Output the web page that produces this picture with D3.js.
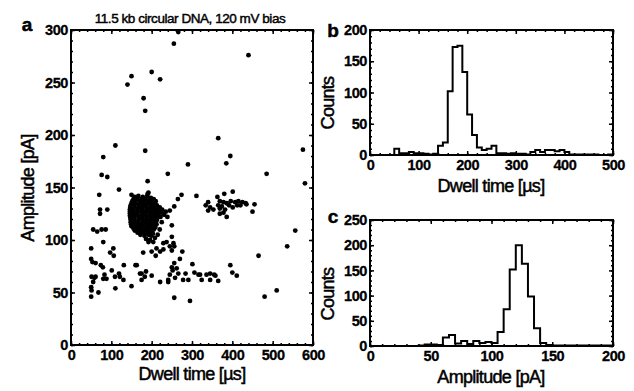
<!DOCTYPE html>
<html>
<head>
<meta charset="utf-8">
<script src="https://cdn.jsdelivr.net/npm/d3@7"></script>
<style>
  body { margin: 0; background: #fff; }
  svg { display: block; font-family: "Liberation Sans", Arial, sans-serif; }
  .tick text { font-size: 14.5px; font-weight: bold; fill: #000; stroke: #000; stroke-width: 0.3px; letter-spacing: -0.4px; }
  .title { font-size: 18px; fill: #000; stroke: #000; stroke-width: 0.5px; letter-spacing: -0.7px; }
</style>
</head>
<body>
<svg width="634" height="391"></svg>
<script>
(function (d3) {
  'use strict';

  // scatter: [dwell time (us), amplitude (pA)]
  var sparsePoints = [
    [266, 298], [255, 287], [440, 276], [150, 256], [140, 248], [200, 260], [221, 253], [180, 235],
    [184, 223], [110, 190], [80, 179], [184, 185], [365, 197], [395, 180], [385, 173], [290, 172],
    [240, 163], [76, 162], [90, 160], [190, 156], [485, 163], [575, 186], [580, 154], [119, 148],
    [70, 143], [190, 144], [274, 143], [311, 142], [265, 139], [256, 132], [245, 128], [235, 127],
    [231, 124], [556, 109], [536, 94], [465, 85], [395, 76], [400, 69], [411, 66], [510, 52], [480, 46],
    [72, 129], [90, 129], [72, 125], [55, 110], [65, 108], [76, 110], [86, 110], [80, 98], [50, 92],
    [97, 88], [105, 92], [106, 85], [50, 82], [53, 79], [61, 78], [74, 76], [79, 74], [131, 76],
    [160, 76], [51, 65], [58, 64], [55, 60], [83, 67], [101, 71], [109, 65], [119, 68], [121, 65],
    [80, 63], [88, 63], [130, 62], [50, 55], [51, 52], [68, 50], [110, 54], [150, 56], [50, 46], [61, 65],
    [250, 114], [239, 122], [225, 117], [250, 103], [237, 98], [229, 97], [254, 97], [245, 94],
    [256, 94], [208, 102], [192, 98], [204, 98], [200, 89], [212, 92], [221, 89], [229, 91], [210, 85],
    [179, 88], [250, 90], [276, 89], [270, 82], [256, 78], [250, 74], [262, 73], [252, 71], [301, 77],
    [266, 68], [284, 68], [306, 69], [316, 67], [336, 67], [345, 68], [355, 67], [245, 67], [258, 64],
    [241, 62], [291, 62], [278, 62], [324, 62], [345, 62], [365, 61], [221, 60], [241, 60], [163, 76],
    [175, 68], [183, 65], [175, 62], [200, 66], [256, 45], [295, 42], [171, 68], [186, 70], [320, 67],
    [358, 66], [215, 105], [220, 110]
  ];
  var sideCluster = [
    [380, 144], [401, 146], [363, 141], [369, 137], [378, 136], [386, 135], [396, 137], [407, 136],
    [415, 137], [425, 136], [433, 135], [412, 133], [401, 131], [374, 132], [382, 129], [378, 126],
    [386, 122], [455, 134], [450, 127], [369, 130], [340, 136], [334, 133], [340, 128], [353, 129],
    [365, 133], [369, 125], [435, 134], [392, 133], [420, 133], [345, 131]
  ];
  var mainCluster = [
    [158, 141], [167, 142], [178, 141], [189, 142], [198, 140], [192, 145], [150, 143],
    [155, 139], [165, 139], [175, 139], [185, 139], [195, 138], [205, 139],
    [152, 137], [161, 138], [172, 137], [183, 138], [193, 137], [202, 136], [210, 137],
    [150, 135], [160, 135], [170, 135], [180, 135], [190, 135], [200, 135], [209, 134],
    [148, 133], [157, 134], [168, 133], [179, 133], [188, 134], [198, 133], [207, 132], [213, 133],
    [147, 131], [157, 131], [167, 131], [177, 131], [187, 131], [197, 131], [207, 131], [214, 130], [220, 131],
    [146, 129], [155, 129], [166, 130], [176, 129], [187, 129], [196, 130], [206, 129], [215, 128], [226, 129],
    [146, 127], [156, 127], [166, 127], [176, 127], [186, 127], [196, 127], [206, 127], [215, 127], [222, 126],
    [146, 125], [156, 125], [165, 124], [176, 125], [186, 126], [197, 125], [206, 124], [215, 125], [230, 125],
    [146, 123], [156, 123], [166, 123], [176, 123], [186, 123], [196, 123], [206, 122], [214, 123], [222, 122],
    [147, 121], [157, 121], [168, 121], [177, 120], [187, 121], [197, 121], [207, 120], [214, 121],
    [148, 119], [158, 119], [168, 119], [178, 119], [188, 119], [198, 119], [208, 118], [213, 119],
    [148, 117], [158, 117], [168, 116], [178, 117], [188, 117], [198, 116], [208, 117], [212, 115],
    [149, 115], [159, 115], [169, 115], [179, 115], [189, 115], [199, 114], [209, 115],
    [150, 113], [160, 112], [170, 113], [180, 113], [190, 112], [200, 113], [209, 112],
    [155, 111], [165, 111], [175, 111], [185, 110], [195, 111], [205, 111],
    [158, 109], [170, 109], [180, 108], [190, 109], [200, 108], [205, 110],
    [165, 107], [175, 107], [185, 106], [195, 107], [203, 106],
    [172, 105], [182, 104], [192, 105], [199, 104], [186, 101], [196, 100]
  ];

  // histogram b: dwell time, 10 us bins from 0
  var dwellBinWidth = 10;
  var dwellCounts = [
    0, 0, 0, 0, 0, 10, 3, 3, 5, 3, 3, 2, 1, 2, 15, 20, 102, 173, 175, 133,
    65, 32, 12, 8, 10, 15, 3, 3, 2, 3, 2, 2, 1, 5, 8, 5, 8, 8, 6, 8,
    5, 1, 1, 1, 1, 1, 1, 0, 0, 1
  ];
  // histogram c: amplitude, 5 pA bins from 0
  var ampBinWidth = 5;
  var ampCounts = [
    0, 0, 0, 0, 0, 0, 0, 0, 1, 3, 3, 2, 17, 22, 5, 10, 4, 10, 6, 8,
    6, 28, 73, 152, 200, 163, 98, 35, 6, 2, 1, 1, 1, 1, 1, 1, 1, 1, 1, 1
  ];

  var aTicksX = [0, 100, 200, 300, 400, 500, 600];
  var aTicksY = [0, 50, 100, 150, 200, 250, 300];
  var bTicksX = [0, 100, 200, 300, 400, 500];
  var bTicksY = [0, 50, 100, 150, 200];
  var cTicksX = [0, 50, 100, 150, 200];
  var cTicksY = [0, 50, 100, 150, 200, 250];

  var svg = d3.select("svg");

  var panelA = { left: 71, top: 30, right: 313, bottom: 345 };
  var panelB = { left: 370, top: 30, right: 613, bottom: 155 };
  var panelC = { left: 370, top: 220, right: 613, bottom: 346 };

  // draws inward ticks on all 4 sides, returns inner g
  var drawFrame = function (box, x, y, xTicks, yTicks, xMinorStep, yMinorStep) {
    var w = box.right - box.left;
    var h = box.bottom - box.top;
    var g = svg.append("g").attr("transform", "translate(" + box.left + "," + box.top + ")");
    var xd = x.domain(), yd = y.domain();
    var xMinor = d3.range(xd[0], xd[1] + 0.001, xMinorStep);
    var yMinor = d3.range(yd[0], yd[1] + 0.001, yMinorStep);

    g.append("g").attr("transform", "translate(0," + h + ")")
      .call(d3.axisBottom(x).tickValues(xMinor).tickSize(-2).tickFormat(""));
    g.append("g")
      .call(d3.axisTop(x).tickValues(xMinor).tickSize(-2).tickFormat(""));
    g.append("g")
      .call(d3.axisLeft(y).tickValues(yMinor).tickSize(-2).tickFormat(""));
    g.append("g").attr("transform", "translate(" + w + ",0)")
      .call(d3.axisRight(y).tickValues(yMinor).tickSize(-2).tickFormat(""));

    g.append("g").attr("transform", "translate(0," + h + ")")
      .call(d3.axisBottom(x).tickValues(xTicks).tickSize(-4).tickPadding(5).tickFormat(d3.format("d")));
    g.append("g")
      .call(d3.axisTop(x).tickValues(xTicks).tickSize(-4).tickFormat(""));
    g.append("g")
      .call(d3.axisLeft(y).tickValues(yTicks).tickSize(-4).tickPadding(3).tickFormat(d3.format("d")));
    g.append("g").attr("transform", "translate(" + w + ",0)")
      .call(d3.axisRight(y).tickValues(yTicks).tickSize(-4).tickFormat(""));

    g.selectAll(".domain").remove();
    g.selectAll(".tick line").attr("stroke", "#000").attr("stroke-width", 1.5);

    return g;
  };

  var frameRect = function (g, box) {
    g.append("rect")
      .attr("width", box.right - box.left)
      .attr("height", box.bottom - box.top)
      .attr("fill", "none")
      .attr("stroke", "#000")
      .attr("stroke-width", 2);
  };

  // ---- panel a: scatter
  var xA = d3.scaleLinear().domain([0, 600]).range([0, panelA.right - panelA.left]);
  var yA = d3.scaleLinear().domain([0, 300]).range([panelA.bottom - panelA.top, 0]);
  var gA = drawFrame(panelA, xA, yA, aTicksX, aTicksY, 20, 10);
  var allPoints = sparsePoints.concat(sideCluster, mainCluster);
  gA.append("g").selectAll("circle")
    .data(allPoints)
    .enter()
    .append("circle")
    .attr("cx", function (d) { return xA(d[0]); })
    .attr("cy", function (d) { return yA(d[1]); })
    .attr("r", 2.4)
    .attr("fill", "#000");
  frameRect(gA, panelA);

  // ---- histograms
  var drawHist = function (box, counts, binWidth, xMax, yMax, xTicks, yTicks, xMinorStep) {
    var x = d3.scaleLinear().domain([0, xMax]).range([0, box.right - box.left]);
    var y = d3.scaleLinear().domain([0, yMax]).range([box.bottom - box.top, 0]);
    var g = drawFrame(box, x, y, xTicks, yTicks, xMinorStep, 10);
    var pts = counts.map(function (c, i) { return [i * binWidth, c]; });
    pts.push([counts.length * binWidth, counts[counts.length - 1]]);
    var line = d3.line()
      .x(function (d) { return x(d[0]); })
      .y(function (d) { return y(d[1]); })
      .curve(d3.curveStepAfter);
    g.append("path")
      .attr("d", line(pts))
      .attr("fill", "none")
      .attr("stroke", "#000")
      .attr("stroke-width", 2);
    frameRect(g, box);
    return g;
  };

  drawHist(panelB, dwellCounts, dwellBinWidth, 500, 200, bTicksX, bTicksY, 20);
  drawHist(panelC, ampCounts, ampBinWidth, 200, 250, cTicksX, cTicksY, 10);

  // ---- texts
  var addText = function (x, y, txt, cls, rot) {
    var t = svg.append("text")
      .attr("class", cls)
      .attr("text-anchor", "middle")
      .text(txt);
    if (rot) {
      t.attr("transform", "translate(" + x + "," + y + ") rotate(-90)");
    } else {
      t.attr("x", x).attr("y", y);
    }
    return t;
  };

  svg.append("text").attr("x", 190).attr("y", 23).attr("text-anchor", "middle")
    .style("font-size", "13.5px").style("letter-spacing", "-0.45px")
    .attr("fill", "#000").attr("stroke", "#000").attr("stroke-width", 0.45)
    .text("11.5 kb circular DNA, 120 mV bias");

  addText(192, 380, "Dwell time [\u00b5s]", "title");
  addText(34, 188, "Amplitude [pA]", "title", true);
  addText(491, 192, "Dwell time [\u00b5s]", "title");
  addText(334, 103, "Counts", "title", true);
  addText(491, 383, "Amplitude [pA]", "title");
  addText(334, 294, "Counts", "title", true);

  var labels = [["a", 27, 31], ["b", 333, 37], ["c", 333, 223]];
  labels.forEach(function (l) {
    svg.append("text").attr("x", l[1]).attr("y", l[2]).attr("text-anchor", "middle")
      .style("font-size", "19px").style("font-weight", "bold")
      .attr("fill", "#000").attr("stroke", "#000").attr("stroke-width", 0.5)
      .text(l[0]);
  });

}(d3));
</script>
</body>
</html>
